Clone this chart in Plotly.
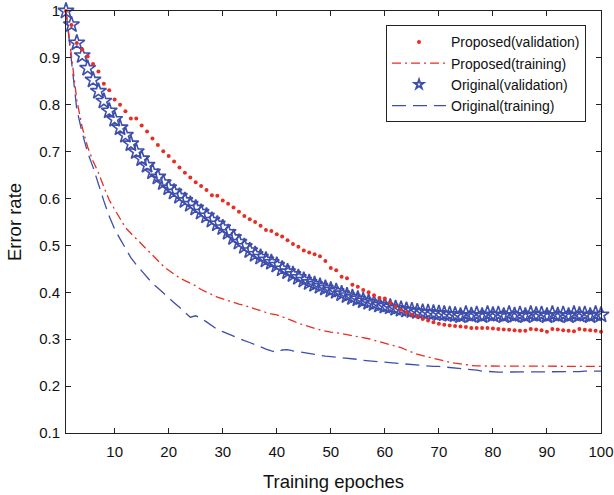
import plotly.graph_objects as go

epochs = list(range(1, 101))

proposed_val = [1.0, 0.97, 0.932, 0.918, 0.903, 0.887, 0.871, 0.845, 0.831, 0.811,
                0.80, 0.786, 0.771, 0.771, 0.756, 0.743, 0.728, 0.714, 0.701, 0.691,
                0.679, 0.666, 0.655, 0.645, 0.635, 0.627, 0.618, 0.607, 0.606, 0.596,
                0.589, 0.581, 0.572, 0.563, 0.556, 0.55, 0.542, 0.533, 0.531, 0.524,
                0.519, 0.511, 0.503, 0.497, 0.489, 0.485, 0.481, 0.477, 0.467, 0.452,
                0.447, 0.433, 0.430, 0.416, 0.412, 0.405, 0.40, 0.394, 0.388, 0.387,
                0.378, 0.370, 0.363, 0.357, 0.352, 0.348, 0.343, 0.340, 0.336, 0.333,
                0.331, 0.329, 0.328, 0.327, 0.326, 0.324, 0.324, 0.324, 0.324, 0.323,
                0.322, 0.321, 0.320, 0.319, 0.318, 0.318, 0.322, 0.321, 0.319, 0.316,
                0.322, 0.321, 0.319, 0.318, 0.317, 0.322, 0.320, 0.319, 0.318, 0.316]

proposed_train = [1.0, 0.898, 0.81, 0.752, 0.71, 0.68, 0.655, 0.625, 0.597, 0.577,
                  0.558, 0.538, 0.526, 0.514, 0.502, 0.490, 0.478, 0.467, 0.456, 0.447,
                  0.438, 0.431, 0.425, 0.419, 0.414, 0.406, 0.400, 0.395, 0.390, 0.386,
                  0.382, 0.378, 0.375, 0.372, 0.368, 0.364, 0.361, 0.357, 0.354, 0.352,
                  0.348, 0.344, 0.339, 0.334, 0.330, 0.326, 0.323, 0.320, 0.317, 0.315,
                  0.314, 0.312, 0.310, 0.308, 0.306, 0.303, 0.301, 0.298, 0.295, 0.292,
                  0.289, 0.286, 0.282, 0.277, 0.272, 0.268, 0.265, 0.262, 0.259, 0.256,
                  0.254, 0.251, 0.249, 0.247, 0.245, 0.244, 0.243, 0.243, 0.242, 0.242,
                  0.242, 0.242, 0.242, 0.242, 0.242, 0.242, 0.242, 0.242, 0.242, 0.242,
                  0.242, 0.242, 0.242, 0.242, 0.242, 0.242, 0.242, 0.242, 0.242, 0.242]

original_val = [1.0, 0.971, 0.932, 0.905, 0.878, 0.853, 0.829, 0.808, 0.787, 0.769,
                0.751, 0.735, 0.717, 0.700, 0.685, 0.671, 0.657, 0.646, 0.634, 0.623,
                0.614, 0.605, 0.596, 0.588, 0.580, 0.571, 0.563, 0.554, 0.546, 0.538,
                0.528, 0.517, 0.507, 0.498, 0.489, 0.481, 0.475, 0.469, 0.464, 0.458,
                0.450, 0.444, 0.438, 0.432, 0.426, 0.421, 0.417, 0.413, 0.409, 0.405,
                0.402, 0.397, 0.393, 0.389, 0.386, 0.382, 0.379, 0.376, 0.373, 0.371,
                0.369, 0.366, 0.364, 0.362, 0.361, 0.359, 0.358, 0.357, 0.356, 0.355,
                0.354, 0.353, 0.352, 0.350, 0.354, 0.351, 0.353, 0.350, 0.354, 0.352,
                0.353, 0.350, 0.354, 0.351, 0.353, 0.350, 0.354, 0.352, 0.353, 0.350,
                0.354, 0.351, 0.353, 0.350, 0.354, 0.352, 0.353, 0.350, 0.354, 0.352]

original_train = [1.0, 0.89, 0.79, 0.74, 0.698, 0.667, 0.63, 0.595, 0.562, 0.535,
                  0.514, 0.493, 0.474, 0.459, 0.445, 0.431, 0.419, 0.409, 0.398, 0.388,
                  0.378, 0.368, 0.358, 0.347, 0.350, 0.345, 0.337, 0.328, 0.321, 0.316,
                  0.311, 0.306, 0.301, 0.297, 0.293, 0.288, 0.284, 0.279, 0.275, 0.272,
                  0.277, 0.278, 0.275, 0.273, 0.271, 0.269, 0.267, 0.265, 0.264, 0.263,
                  0.262, 0.261, 0.259, 0.258, 0.257, 0.255, 0.254, 0.253, 0.252, 0.251,
                  0.250, 0.249, 0.247, 0.246, 0.245, 0.244, 0.243, 0.243, 0.242, 0.242,
                  0.241, 0.240, 0.239, 0.238, 0.236, 0.235, 0.234, 0.232, 0.231, 0.231,
                  0.230, 0.230, 0.230, 0.230, 0.230, 0.230, 0.230, 0.230, 0.231, 0.231,
                  0.231, 0.231, 0.231, 0.231, 0.231, 0.231, 0.232, 0.232, 0.232, 0.232]

x_ticks = [10, 20, 30, 40, 50, 60, 70, 80, 90, 100]
y_ticks = [0.1, 0.2, 0.3, 0.4, 0.5, 0.6, 0.7, 0.8, 0.9, 1.0]
y_tick_text = ["0.1", "0.2", "0.3", "0.4", "0.5", "0.6", "0.7", "0.8", "0.9", "1"]

RED = "rgb(232,45,35)"
BLUE = "rgb(62,78,172)"
FONT = "Liberation Sans, Arial"

DASH_BLUE = "14px,7px"
DASH_RED = "9px,4px,2px,4px"

fig = go.Figure()
# data traces
fig.add_trace(go.Scatter(x=epochs, y=original_train, mode="lines", showlegend=False,
                         line=dict(color=BLUE, width=1.3, dash=DASH_BLUE)))
fig.add_trace(go.Scatter(x=epochs, y=proposed_train, mode="lines", showlegend=False,
                         line=dict(color=RED, width=1.3, dash=DASH_RED)))
fig.add_trace(go.Scatter(x=epochs, y=original_val, mode="markers", showlegend=False, cliponaxis=False,
                         marker=dict(symbol="star-open", size=12, color=BLUE, line=dict(width=1.6, color=BLUE))))
fig.add_trace(go.Scatter(x=epochs, y=proposed_val, mode="markers", showlegend=False, cliponaxis=False,
                         marker=dict(symbol="circle", size=4, color=RED)))

# legend entries
fig.add_trace(go.Scatter(x=[None], y=[None], mode="markers", name="Proposed(validation)",
                         marker=dict(symbol="circle", size=4, color=RED)))
fig.add_trace(go.Scatter(x=[None], y=[None], mode="lines", name="Proposed(training)",
                         line=dict(color=RED, width=1.3, dash=DASH_RED)))
fig.add_trace(go.Scatter(x=[None], y=[None], mode="markers", name="Original(validation)",
                         marker=dict(symbol="star-open", size=7, color=BLUE, line=dict(width=1.8, color=BLUE))))
fig.add_trace(go.Scatter(x=[None], y=[None], mode="lines", name="Original(training)",
                         line=dict(color=BLUE, width=1.3, dash=DASH_BLUE)))

axis_common = dict(showline=True, mirror="ticks", linecolor="#222", linewidth=1,
                   ticks="inside", ticklen=5, tickcolor="#222", showgrid=False, zeroline=False,
                   automargin=False,
                   tickfont=dict(family=FONT, size=15, color="#111"))

fig.update_xaxes(range=[1, 100], tickvals=x_ticks, ticklabelstandoff=5,
                 title=dict(text="Training epoches", font=dict(family=FONT, size=18.5, color="#111"), standoff=16),
                 **axis_common)
fig.update_yaxes(range=[0.1, 1.0], tickvals=y_ticks, ticktext=y_tick_text, ticklabelstandoff=2,
                 title=dict(text="Error rate", font=dict(family=FONT, size=18.5, color="#111"), standoff=12),
                 **axis_common)

fig.update_layout(
    width=614, height=495,
    margin=dict(l=66, r=13, t=11, b=62),
    plot_bgcolor="white", paper_bgcolor="white",
    legend=dict(x=0.972, y=0.966, xanchor="right", yanchor="top",
                bgcolor="white", bordercolor="#222", borderwidth=1,
                font=dict(family=FONT, size=14, color="#111"),
                tracegroupgap=0, itemwidth=54, traceorder="normal"),
)

fig.write_html("out.html")
